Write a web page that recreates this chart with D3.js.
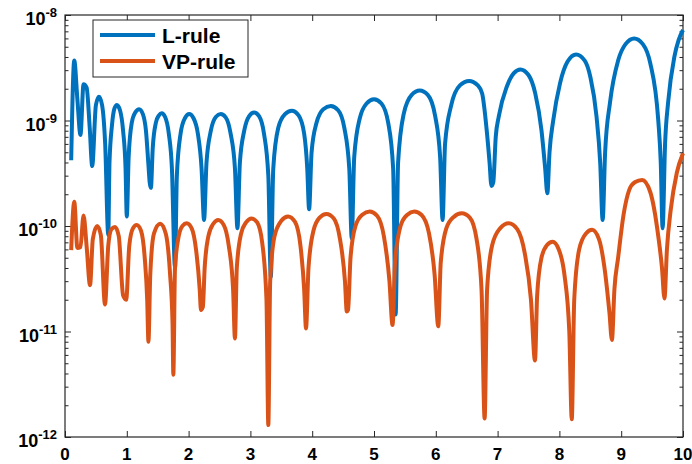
<!DOCTYPE html>
<html>
<head>
<meta charset="utf-8">
<script src="https://cdn.jsdelivr.net/npm/d3@7"></script>
<style>
  body { margin: 0; background: #fff; }
  svg text { font-family: "Liberation Sans", Arial, sans-serif; font-weight: bold; fill: #000; }
</style>
</head>
<body>
<svg id="chart" width="692" height="464"></svg>
<script>
// ---------- data ----------
var seriesNames = ["L-rule", "VP-rule"];
var xTicks = [0, 1, 2, 3, 4, 5, 6, 7, 8, 9, 10];
var yDecades = [-12, -11, -10, -9, -8];

var lX = [0.10, 0.15, 0.20, 0.25, 0.30, 0.35, 0.40, 0.44, 0.50, 0.55, 0.60, 0.65, 0.70,
  0.72, 0.76, 0.80, 0.84, 0.89, 0.94, 0.98, 1.00,
  1.03, 1.08, 1.14, 1.20, 1.26, 1.31, 1.35, 1.37, 1.39,
  1.42, 1.47, 1.52, 1.565, 1.62, 1.68, 1.73, 1.78,
  1.81, 1.87, 1.94, 2.01, 2.08, 2.15, 2.21, 2.25,
  2.29, 2.36, 2.44, 2.52, 2.60, 2.68, 2.75, 2.79,
  2.83, 2.90, 2.98, 3.06, 3.14, 3.22, 3.29, 3.33,
  3.37, 3.45, 3.56, 3.67, 3.78, 3.87, 3.92, 3.95,
  3.99, 4.07, 4.18, 4.30, 4.42, 4.52, 4.60, 4.64,
  4.68, 4.77, 4.88, 5.00, 5.12, 5.23, 5.31, 5.35,
  5.39, 5.48, 5.61, 5.74, 5.87, 5.99, 6.07, 6.11,
  6.15, 6.25, 6.39, 6.54, 6.68, 6.75, 6.82, 6.87, 6.90, 6.93,
  6.97, 7.02, 7.15, 7.26, 7.37, 7.50, 7.61, 7.71, 7.77, 7.805,
  7.84, 7.90, 8.01, 8.13, 8.27, 8.41, 8.50, 8.60, 8.66, 8.70,
  8.74, 8.82, 8.95, 9.07, 9.21, 9.35, 9.47, 9.60, 9.64, 9.67,
  9.71, 9.76, 9.86, 9.93, 10.0];
var lY = [4.2e-10, 3.7e-9, 1.6e-9, 7.3e-10, 2.2e-9, 2.05e-9, 8.5e-10, 3.7e-10, 1.4e-9, 1.68e-9, 1.4e-9, 6.0e-10, 8.2e-11,
  4.0e-10, 9.0e-10, 1.3e-9, 1.4e-9, 1.25e-9, 8.0e-10, 3.5e-10, 1.23e-10,
  4.5e-10, 9.5e-10, 1.2e-9, 1.28e-9, 1.15e-9, 8.0e-10, 3.8e-10, 2.6e-10, 2.3e-10,
  5.5e-10, 9.5e-10, 1.12e-9, 1.17e-9, 1.08e-9, 7.5e-10, 3.5e-10, 4.0e-11,
  3.0e-10, 7.5e-10, 1.05e-9, 1.15e-9, 1.05e-9, 7.5e-10, 3.5e-10, 1.14e-10,
  4.0e-10, 8.0e-10, 1.08e-9, 1.15e-9, 1.07e-9, 7.5e-10, 3.5e-10, 9.5e-11,
  4.0e-10, 8.0e-10, 1.1e-9, 1.19e-9, 1.1e-9, 7.5e-10, 3.0e-10, 3.3e-11,
  3.5e-10, 8.5e-10, 1.15e-9, 1.24e-9, 1.12e-9, 7.5e-10, 3.5e-10, 1.44e-10,
  5.0e-10, 9.5e-10, 1.28e-9, 1.37e-9, 1.25e-9, 8.5e-10, 3.5e-10, 7.6e-11,
  4.5e-10, 1.05e-9, 1.45e-9, 1.59e-9, 1.45e-9, 9.5e-10, 3.5e-10, 1.45e-11,
  4.0e-10, 1.15e-9, 1.75e-9, 1.92e-9, 1.75e-9, 1.1e-9, 4.5e-10, 1.14e-10,
  6.0e-10, 1.4e-9, 2.15e-9, 2.37e-9, 2.15e-9, 1.8e-9, 8.5e-10, 4.0e-10, 2.4e-10, 2.6e-10,
  7.0e-10, 1.1e-9, 2.1e-9, 2.8e-9, 3.05e-9, 2.7e-9, 1.8e-9, 8.1e-10, 3.5e-10, 2.04e-10,
  5.0e-10, 1.0e-9, 2.25e-9, 3.6e-9, 4.23e-9, 3.7e-9, 2.6e-9, 1.1e-9, 4.0e-10, 1.14e-10,
  5.0e-10, 1.5e-9, 3.7e-9, 5.3e-9, 6.0e-9, 5.3e-9, 3.5e-9, 1.0e-9, 4.0e-10, 9.5e-11,
  6.0e-10, 1.5e-9, 4.0e-9, 5.8e-9, 7.2e-9];

var vpX = [0.10, 0.15, 0.20, 0.25, 0.30, 0.35, 0.405, 0.45, 0.52, 0.58, 0.647,
  0.70, 0.75, 0.81, 0.87, 0.94, 0.99,
  1.04, 1.10, 1.16, 1.23, 1.29, 1.33, 1.35,
  1.38, 1.44, 1.54, 1.63, 1.70, 1.74, 1.753,
  1.78, 1.84, 1.90, 1.97, 2.05, 2.12, 2.18, 2.20, 2.23,
  2.26, 2.32, 2.40, 2.48, 2.57, 2.65, 2.72, 2.75,
  2.78, 2.85, 2.93, 3.02, 3.11, 3.19, 3.26, 3.29,
  3.32, 3.39, 3.50, 3.61, 3.72, 3.81, 3.87, 3.90,
  3.94, 4.02, 4.12, 4.23, 4.35, 4.45, 4.53, 4.56, 4.58,
  4.62, 4.70, 4.81, 4.93, 5.05, 5.16, 5.25, 5.30,
  5.34, 5.43, 5.54, 5.65, 5.77, 5.89, 5.98, 6.04,
  6.08, 6.17, 6.29, 6.42, 6.55, 6.66, 6.74, 6.79,
  6.83, 6.91, 7.04, 7.18, 7.32, 7.44, 7.54, 7.605,
  7.64, 7.71, 7.80, 7.89, 7.99, 8.08, 8.16, 8.20,
  8.24, 8.32, 8.43, 8.53, 8.64, 8.73, 8.81, 8.85,
  8.89, 8.95, 9.04, 9.13, 9.22, 9.34, 9.47, 9.60, 9.66, 9.70,
  9.74, 9.80, 9.90, 10.0];
var vpY = [5.9e-11, 1.7e-10, 6.2e-11, 6.3e-11, 1.26e-10, 6.4e-11, 2.75e-11, 7.5e-11, 1.0e-10, 8.2e-11, 1.8e-11,
  6.5e-11, 9.3e-11, 9.8e-11, 8.0e-11, 2.2e-11, 2.0e-11,
  6.5e-11, 9.5e-11, 1.02e-10, 9.0e-11, 5.0e-11, 2.0e-11, 8.0e-12,
  3.5e-11, 8.5e-11, 1.05e-10, 8.5e-11, 3.5e-11, 1.2e-11, 3.9e-12,
  4.0e-11, 8.0e-11, 1.0e-10, 1.06e-10, 9.5e-11, 6.0e-11, 2.5e-11, 1.6e-11, 1.7e-11,
  4.0e-11, 8.0e-11, 1.05e-10, 1.14e-10, 1.02e-10, 6.5e-11, 2.5e-11, 8.6e-12,
  4.0e-11, 8.5e-11, 1.08e-10, 1.18e-10, 1.08e-10, 7.0e-11, 2.0e-11, 1.3e-12,
  3.0e-11, 8.0e-11, 1.12e-10, 1.23e-10, 1.1e-10, 6.5e-11, 2.5e-11, 1.07e-11,
  4.0e-11, 9.0e-11, 1.2e-10, 1.3e-10, 1.18e-10, 7.5e-11, 3.0e-11, 1.55e-11, 1.6e-11,
  5.0e-11, 1.0e-10, 1.28e-10, 1.37e-10, 1.25e-10, 8.0e-11, 3.0e-11, 1.15e-11,
  4.5e-11, 1.0e-10, 1.28e-10, 1.37e-10, 1.27e-10, 8.5e-11, 3.5e-11, 1.12e-11,
  4.5e-11, 9.5e-11, 1.22e-10, 1.32e-10, 1.2e-10, 7.5e-11, 2.5e-11, 1.5e-12,
  2.5e-11, 6.5e-11, 9.5e-11, 1.06e-10, 9.3e-11, 5.5e-11, 2.0e-11, 5.3e-12,
  2.2e-11, 5.0e-11, 6.6e-11, 7.1e-11, 6.0e-11, 3.5e-11, 1.0e-11, 1.47e-12,
  2.0e-11, 6.0e-11, 8.5e-11, 9.2e-11, 7.5e-11, 4.0e-11, 1.5e-11, 8.3e-12,
  2.5e-11, 5.0e-11, 1.3e-10, 2.2e-10, 2.6e-10, 2.73e-10, 2.1e-10, 8.0e-11, 4.0e-11, 2.06e-11,
  6.0e-11, 1.4e-10, 3.2e-10, 4.9e-10];

var colors = ["#0072BD", "#D95319"];

// ---------- layout ----------
var plotLeft = 65, plotRight = 683, plotTop = 15, plotBottom = 437;

var svg = d3.select("#chart");

var x = d3.scaleLinear().domain([0, 10]).range([plotLeft, plotRight]);
var y = d3.scaleLog().domain([1e-12, 1e-8]).range([plotBottom, plotTop]);

var majors = yDecades.map(function(p) { return Math.pow(10, p); });
var minors = y.ticks().filter(function(v) {
  return majors.every(function(m) { return Math.abs(v / m - 1) > 1e-6; });
});

var axisColor = "#262626";

// ticks, all pointing inward
function tickAxis(axis, tx, ty) {
  var g = svg.append("g")
    .attr("transform", "translate(" + tx + "," + ty + ")")
    .call(axis);
  g.select(".domain").remove();
  g.selectAll("line").attr("stroke", axisColor).attr("stroke-width", 1);
  g.selectAll("text").remove();
  return g;
}

tickAxis(d3.axisBottom(x).tickValues(xTicks).tickSize(-6).tickFormat(""), 0, plotBottom);
tickAxis(d3.axisTop(x).tickValues(xTicks).tickSize(-6).tickFormat(""), 0, plotTop);
tickAxis(d3.axisLeft(y).tickValues(majors).tickSize(-6).tickFormat(""), plotLeft, 0);
tickAxis(d3.axisLeft(y).tickValues(minors).tickSize(-3.5).tickFormat(""), plotLeft, 0);
tickAxis(d3.axisRight(y).tickValues(majors).tickSize(-6).tickFormat(""), plotRight, 0);
tickAxis(d3.axisRight(y).tickValues(minors).tickSize(-3.5).tickFormat(""), plotRight, 0);

// box
svg.append("rect")
  .attr("x", plotLeft).attr("y", plotTop)
  .attr("width", plotRight - plotLeft).attr("height", plotBottom - plotTop)
  .attr("fill", "none")
  .attr("stroke", axisColor)
  .attr("stroke-width", 1.2);

// x labels
svg.append("g").selectAll("text")
  .data(xTicks)
  .enter()
  .append("text")
    .attr("x", d => x(d))
    .attr("y", 460)
    .attr("text-anchor", "middle")
    .attr("font-size", 17)
    .text(d => d);

// y labels 10^n
var ylab = svg.append("g").selectAll("text")
  .data(yDecades)
  .enter()
  .append("text")
    .attr("x", 57)
    .attr("y", d => y(Math.pow(10, d)) + 10)
    .attr("text-anchor", "end")
    .attr("font-size", 18);
ylab.append("tspan").text("10");
ylab.append("tspan")
  .attr("dy", -8)
  .attr("font-size", 13)
  .text(d => "-" + Math.abs(d));

// lines
var line = d3.line()
  .x(d => x(d[0]))
  .y(d => y(d[1]))
  .curve(d3.curveMonotoneX);

var series = [
  d3.zip(lX, lY),
  d3.zip(vpX, vpY)
];

svg.append("g").selectAll("path")
  .data(series)
  .enter()
  .append("path")
    .attr("d", line)
    .attr("fill", "none")
    .attr("stroke", (d, i) => colors[i])
    .attr("stroke-width", 4)
    .attr("stroke-linejoin", "round");

// legend
var legend = svg.append("g");
legend.append("rect")
  .attr("x", 93).attr("y", 20)
  .attr("width", 155).attr("height", 57)
  .attr("fill", "#fff")
  .attr("stroke", axisColor)
  .attr("stroke-width", 1);

var legY = [35, 61];
seriesNames.forEach(function(name, i) {
  legend.append("line")
    .attr("x1", 100).attr("x2", 155)
    .attr("y1", legY[i]).attr("y2", legY[i])
    .attr("stroke", colors[i])
    .attr("stroke-width", 4);
  legend.append("text")
    .attr("x", 162)
    .attr("y", legY[i] + 8)
    .attr("font-size", 21)
    .text(name);
});
</script>
</body>
</html>
